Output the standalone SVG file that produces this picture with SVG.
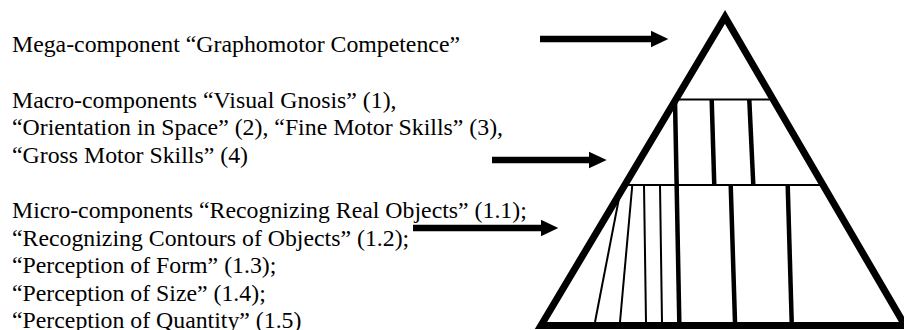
<svg xmlns="http://www.w3.org/2000/svg" width="904" height="330" viewBox="0 0 904 330">
<style>
text{font-family:"Liberation Serif","Times New Roman",serif;font-size:23.8px;fill:#000}
.tri{fill:none;stroke:#000;stroke-width:7;stroke-linejoin:miter;stroke-miterlimit:10}
.h{stroke:#000;stroke-width:2;fill:none}
.thick{stroke:#000;stroke-width:4.5;fill:none}
.thin{stroke:#000;stroke-width:2;fill:none}
.shaft{stroke:#000;stroke-width:6.5;fill:none}
.head{fill:#000}
</style>
<rect width="904" height="330" fill="#fff"/>
<g id="label-mega">
<text x="12" y="52">Mega-component “Graphomotor Competence”</text>
</g>
<g id="label-macro">
<text x="12" y="107.5">Macro-components “Visual Gnosis” (1),</text>
<text x="12" y="135">“Orientation in Space” (2), “Fine Motor Skills” (3),</text>
<text x="12" y="162.5">“Gross Motor Skills” (4)</text>
</g>
<g id="label-micro">
<text x="12" y="218">Micro-components “Recognizing Real Objects” (1.1);</text>
<text x="12" y="245.5">“Recognizing Contours of Objects” (1.2);</text>
<text x="12" y="273">“Perception of Form” (1.3);</text>
<text x="12" y="300.5">“Perception of Size” (1.4);</text>
<text x="12" y="328">“Perception of Quantity” (1.5)</text>
</g>
<g id="pyramid">
<polygon class="tri" points="725,17 541,325.5 905,325.5"/>
<line class="h" x1="676" y1="99.5" x2="772" y2="99.5"/>
<line class="h" x1="625" y1="185" x2="823" y2="185"/>
<line class="thick" x1="675" y1="100" x2="679.3" y2="322"/>
<line class="thick" x1="711.7" y1="100" x2="714.3" y2="186"/>
<line class="thick" x1="749.3" y1="100" x2="753.3" y2="185"/>
<line class="thick" x1="730.7" y1="185" x2="735" y2="322"/>
<line class="thick" x1="787.7" y1="185" x2="791.7" y2="322"/>
<line class="thin" x1="620" y1="193" x2="595" y2="322"/>
<line class="thin" x1="632.3" y1="185" x2="620" y2="322"/>
<line class="thin" x1="644" y1="185" x2="646" y2="322"/>
<line class="thin" x1="660" y1="185" x2="662" y2="322"/>
</g>
<g id="connectors">
<line class="shaft" x1="540" y1="39" x2="653" y2="39"/>
<polygon class="head" points="651,30.7 668.3,39 651,47.3"/>
<line class="shaft" x1="492" y1="160" x2="591" y2="160"/>
<polygon class="head" points="589,151.7 606.7,160 589,168.3"/>
<line class="shaft" x1="413" y1="228" x2="543" y2="228"/>
<polygon class="head" points="541,219.7 558.3,228 541,236.3"/>
</g>
</svg>
